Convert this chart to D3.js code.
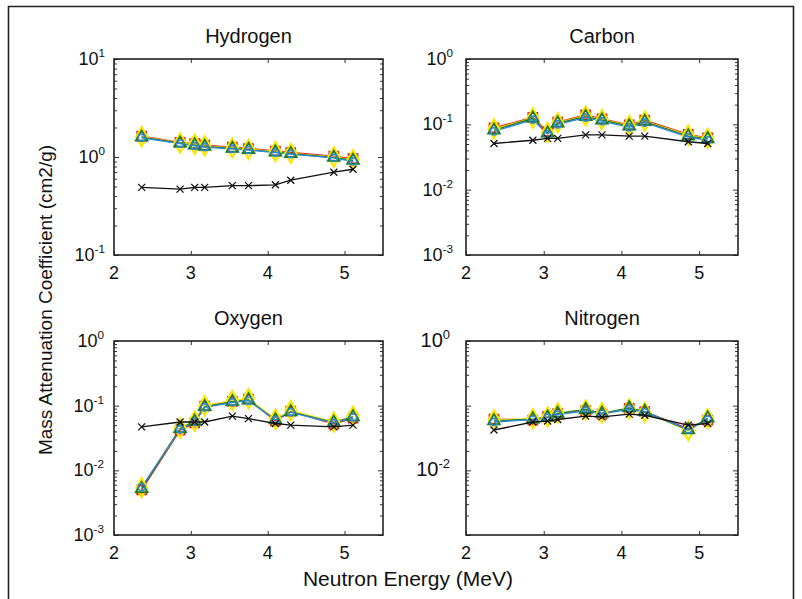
<!DOCTYPE html>
<html>
<head>
<meta charset="utf-8">
<script src="https://cdn.jsdelivr.net/npm/d3@7"></script>
<style>
  html, body { margin: 0; padding: 0; background: #fff; }
  svg { display: block; }
  text { font-family: "Liberation Sans", Arial, sans-serif; fill: #111; }
</style>
</head>
<body>
<svg id="chart" width="802" height="599"></svg>
<script>
// Neutron energies (MeV) at which each element was measured
const energies = [2.36, 2.86, 3.05, 3.18, 3.54, 3.75, 4.10, 4.30, 4.86, 5.11];

const xTicks = [2, 3, 4, 5];

// Hydrogen mass attenuation coefficients (cm2/g)
const hydrogenTheory = [0.49, 0.47, 0.49, 0.49, 0.51, 0.51, 0.52, 0.58, 0.70, 0.75];
const hydrogenRed    = [1.63, 1.41, 1.37, 1.32, 1.26, 1.22, 1.15, 1.11, 1.02, 0.96];
const hydrogenYellow = [1.61, 1.39, 1.35, 1.30, 1.24, 1.20, 1.14, 1.09, 1.00, 0.94];
const hydrogenBlue   = [1.57, 1.37, 1.30, 1.26, 1.21, 1.18, 1.11, 1.07, 0.98, 0.90];
const hydrogenGreen  = [1.59, 1.38, 1.32, 1.28, 1.22, 1.19, 1.12, 1.08, 0.99, 0.92];

// Carbon
const carbonTheory = [0.051, 0.057, 0.061, 0.061, 0.069, 0.069, 0.066, 0.066, 0.054, 0.051];
const carbonRed    = [0.088, 0.128, 0.077, 0.108, 0.139, 0.121, 0.098, 0.116, 0.070, 0.062];
const carbonYellow = [0.085, 0.125, 0.075, 0.106, 0.134, 0.118, 0.096, 0.112, 0.068, 0.061];
const carbonBlue   = [0.078, 0.118, 0.071, 0.100, 0.127, 0.112, 0.090, 0.106, 0.064, 0.057];
const carbonGreen  = [0.081, 0.124, 0.073, 0.104, 0.131, 0.116, 0.094, 0.110, 0.066, 0.060];

// Oxygen
const oxygenTheory = [0.047, 0.056, 0.056, 0.056, 0.069, 0.063, 0.053, 0.050, 0.047, 0.050];
const oxygenRed    = [0.0050, 0.042, 0.054, 0.098, 0.117, 0.126, 0.058, 0.082, 0.052, 0.064];
const oxygenYellow = [0.0054, 0.045, 0.058, 0.100, 0.120, 0.128, 0.062, 0.084, 0.056, 0.069];
const oxygenBlue   = [0.0055, 0.043, 0.056, 0.094, 0.112, 0.120, 0.060, 0.079, 0.054, 0.066];
const oxygenGreen  = [0.0052, 0.044, 0.057, 0.096, 0.115, 0.122, 0.060, 0.080, 0.055, 0.067];

// Nitrogen
const nitrogenTheory = [0.042, 0.056, 0.058, 0.061, 0.069, 0.067, 0.074, 0.071, 0.050, 0.053];
const nitrogenRed    = [0.062, 0.060, 0.068, 0.075, 0.084, 0.074, 0.091, 0.081, 0.044, 0.060];
const nitrogenYellow = [0.060, 0.063, 0.067, 0.077, 0.086, 0.077, 0.089, 0.079, 0.041, 0.063];
const nitrogenBlue   = [0.056, 0.061, 0.065, 0.073, 0.083, 0.075, 0.088, 0.079, 0.043, 0.061];
const nitrogenGreen  = [0.058, 0.062, 0.066, 0.076, 0.087, 0.076, 0.092, 0.081, 0.042, 0.064];

// Labelled decades on each y axis
const hydrogenYTicks = [0.1, 1, 10];
const carbonYTicks   = [0.001, 0.01, 0.1, 1];
const oxygenYTicks   = [0.001, 0.01, 0.1, 1];
const nitrogenYTicks = [0.01, 1];

const panels = [
  { title: "Hydrogen", theory: hydrogenTheory, red: hydrogenRed, yellow: hydrogenYellow, blue: hydrogenBlue, green: hydrogenGreen,
    yDomain: [0.1, 10], yTicks: hydrogenYTicks, left: 114, top: 59, right: 383, bottom: 255, labelGap: 9, labelSize: 18 },
  { title: "Carbon", theory: carbonTheory, red: carbonRed, yellow: carbonYellow, blue: carbonBlue, green: carbonGreen,
    yDomain: [0.001, 1], yTicks: carbonYTicks, left: 466, top: 59, right: 738, bottom: 255, labelGap: 13, labelSize: 18 },
  { title: "Oxygen", theory: oxygenTheory, red: oxygenRed, yellow: oxygenYellow, blue: oxygenBlue, green: oxygenGreen,
    yDomain: [0.001, 1], yTicks: oxygenYTicks, left: 114, top: 341, right: 383, bottom: 535, labelGap: 10, labelSize: 18 },
  { title: "Nitrogen", theory: nitrogenTheory, red: nitrogenRed, yellow: nitrogenYellow, blue: nitrogenBlue, green: nitrogenGreen,
    yDomain: [0.001, 1], yTicks: nitrogenYTicks, left: 466, top: 341, right: 738, bottom: 535, labelGap: 16, labelSize: 20 }
];

const svg = d3.select("#chart");

// outer figure frame
svg.append("path")
  .attr("d", "M8.5,599 V6.5 H793.5 V599")
  .attr("fill", "none").attr("stroke", "#222").attr("stroke-width", 1.6);

const xMark = "M-3.5,-3.5L3.5,3.5M-3.5,3.5L3.5,-3.5";

function drawPanel(p) {
  const x = d3.scaleLinear().domain([2, 5.5]).range([p.left, p.right]);
  const y = d3.scaleLog().domain(p.yDomain).range([p.bottom, p.top]);
  const g = svg.append("g");

  // minor ticks on the log axis, pointing inward on both sides
  const minor = [];
  const lo = Math.round(Math.log10(p.yDomain[0])), hi = Math.round(Math.log10(p.yDomain[1]));
  for (let e = lo; e < hi; e++) for (let m = 2; m <= 9; m++) minor.push(m * Math.pow(10, e));
  const majors = d3.range(lo, hi + 1).map(e => Math.pow(10, e));

  const axes = [
    g.append("g").attr("transform", `translate(${p.left},0)`)
      .call(d3.axisRight(y).tickValues(minor).tickSize(3).tickFormat("")),
    g.append("g").attr("transform", `translate(${p.right},0)`)
      .call(d3.axisLeft(y).tickValues(minor).tickSize(3).tickFormat("")),
    g.append("g").attr("transform", `translate(${p.left},0)`)
      .call(d3.axisRight(y).tickValues(majors).tickSize(5).tickFormat("")),
    g.append("g").attr("transform", `translate(${p.right},0)`)
      .call(d3.axisLeft(y).tickValues(majors).tickSize(5).tickFormat("")),
    g.append("g").attr("transform", `translate(0,${p.bottom})`)
      .call(d3.axisTop(x).tickValues(xTicks).tickSize(4).tickFormat("")),
    g.append("g").attr("transform", `translate(0,${p.top})`)
      .call(d3.axisBottom(x).tickValues(xTicks).tickSize(4).tickFormat(""))
  ];
  axes.forEach(a => {
    a.select(".domain").remove();
    a.selectAll("line").attr("stroke", "#333").attr("stroke-width", 1);
  });

  // x tick labels
  g.selectAll("text.xt").data(xTicks).join("text")
    .attr("class", "xt")
    .attr("x", d => x(d)).attr("y", p.bottom + 24)
    .attr("text-anchor", "middle").attr("font-size", 18)
    .text(d => d);

  // y tick labels: 10 with a raised exponent
  const yt = g.selectAll("text.yt").data(p.yTicks).join("text")
    .attr("class", "yt")
    .attr("x", p.left - p.labelGap).attr("y", d => y(d) + 6)
    .attr("text-anchor", "end").attr("font-size", p.labelSize);
  yt.append("tspan").text("10");
  yt.append("tspan").attr("dy", -8).attr("font-size", p.labelSize * 0.65)
    .text(d => String(Math.round(Math.log10(d))));

  // title
  g.append("text").attr("x", (p.left + p.right) / 2).attr("y", p.top - 16)
    .attr("text-anchor", "middle").attr("font-size", 20).text(p.title);

  const pts = arr => arr.map((v, i) => [energies[i], v]);
  const line = d3.line().x(d => x(d[0])).y(d => y(d[1]));

  // measured series: red squares, yellow diamonds, blue circles, green triangles
  const series = [
    { data: p.red, color: "#e3211c", sym: d3.symbolSquare, size: 80, w: 1.8 },
    { data: p.yellow, color: "#ffe600", sym: d3.symbolDiamond, size: 100, w: 2.4 },
    { data: p.green, color: "#1d7a2a", sym: d3.symbolTriangle, size: 60, w: 1.8 },
    { data: p.blue, color: "#2b8ad6", sym: d3.symbolCircle, size: 40, w: 1.6 }
  ];
  series.forEach(s => {
    g.append("path").datum(pts(s.data)).attr("d", line)
      .attr("fill", "none").attr("stroke", s.color).attr("stroke-width", 1.4);
  });
  series.forEach(s => {
    g.selectAll(null).data(pts(s.data)).join("path")
      .attr("transform", d => `translate(${x(d[0])},${y(d[1])})`)
      .attr("d", d3.symbol().type(s.sym).size(s.size))
      .attr("fill", "none").attr("stroke", s.color).attr("stroke-width", s.w);
  });

  // calculated values: black line with x markers
  g.append("path").datum(pts(p.theory)).attr("d", line)
    .attr("fill", "none").attr("stroke", "#111").attr("stroke-width", 1.4);
  g.selectAll(null).data(pts(p.theory)).join("path")
    .attr("transform", d => `translate(${x(d[0])},${y(d[1])})`)
    .attr("d", xMark)
    .attr("fill", "none").attr("stroke", "#111").attr("stroke-width", 1.3);

  // axes box
  g.append("rect").attr("x", p.left).attr("y", p.top)
    .attr("width", p.right - p.left).attr("height", p.bottom - p.top)
    .attr("fill", "none").attr("stroke", "#222").attr("stroke-width", 1.6);
}

panels.forEach(drawPanel);

// shared axis titles
svg.append("text").attr("x", 408).attr("y", 586)
  .attr("text-anchor", "middle").attr("font-size", 21)
  .text("Neutron Energy (MeV)");
svg.append("text").attr("transform", "translate(52,300) rotate(-90)")
  .attr("text-anchor", "middle").attr("font-size", 19)
  .text("Mass Attenuation Coefficient (cm2/g)");
</script>
</body>
</html>
